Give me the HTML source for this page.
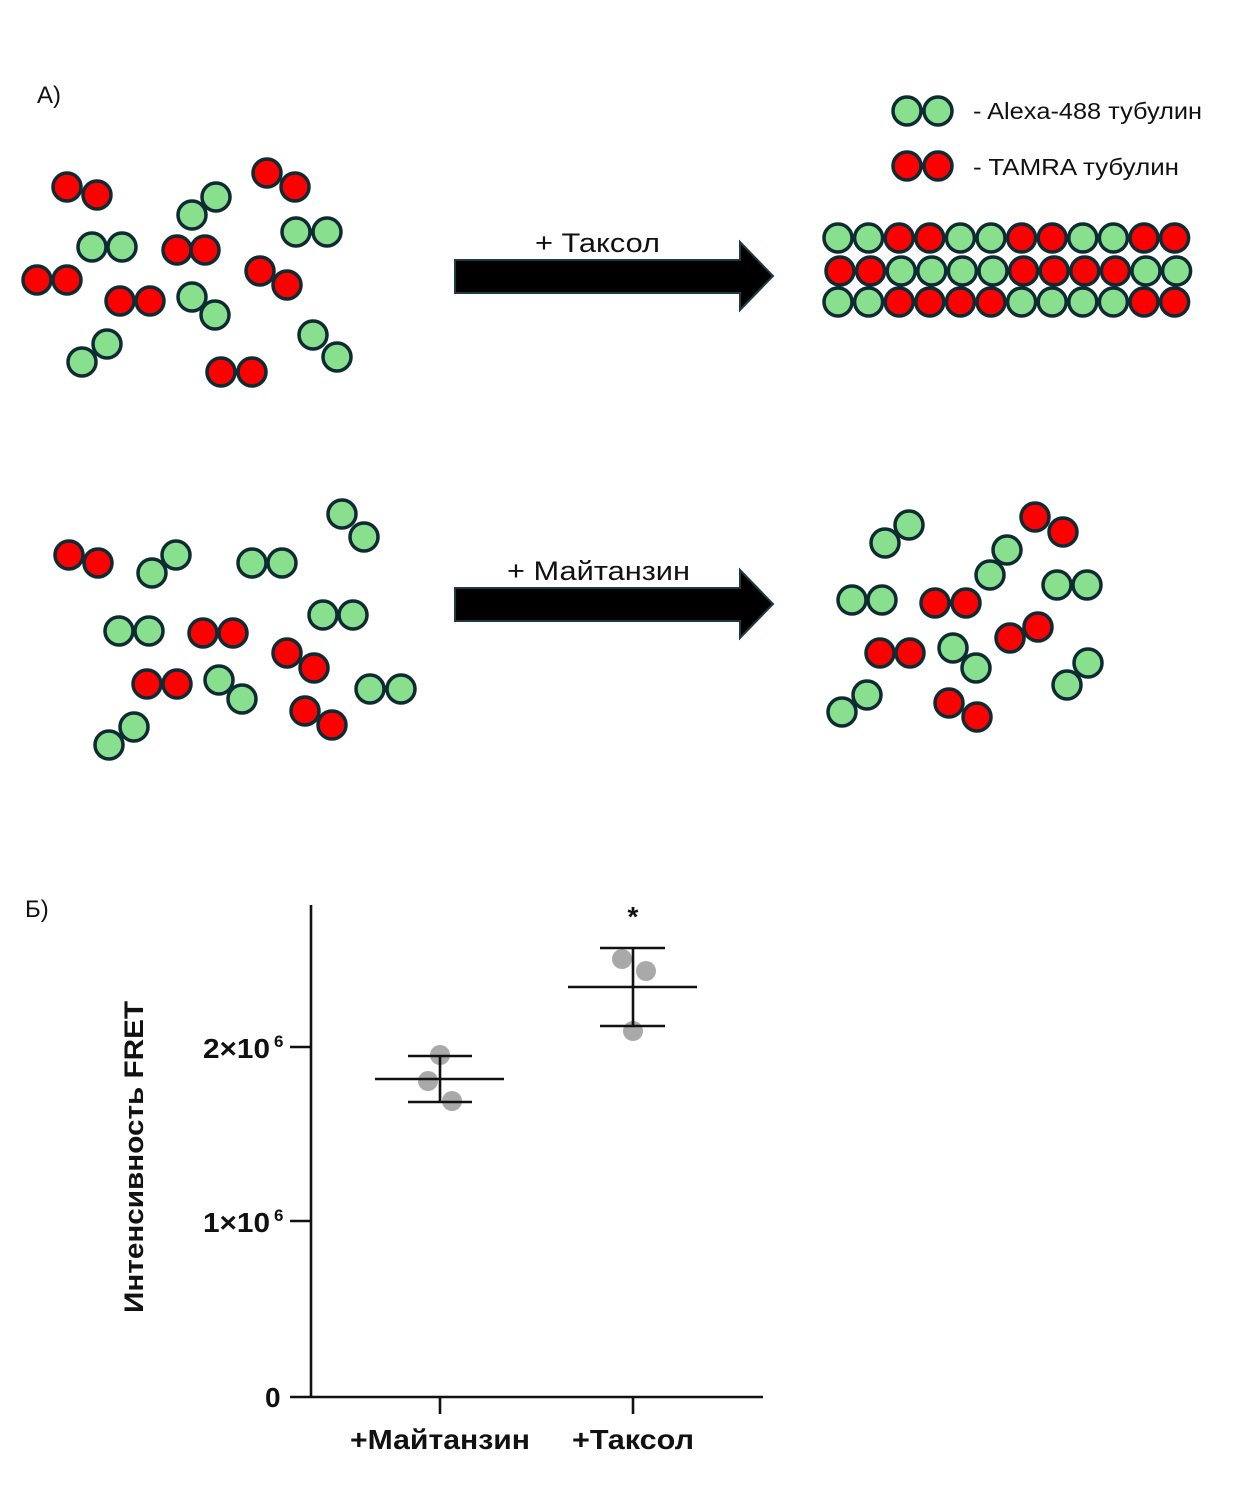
<!DOCTYPE html>
<html><head><meta charset="utf-8"><style>html,body{margin:0;padding:0;background:#fff}svg{display:block}</style></head>
<body>
<svg width="1233" height="1500" viewBox="0 0 1233 1500" xmlns="http://www.w3.org/2000/svg">
<defs>
<style>
.g{fill:#88df8e;stroke:#0e2a33;stroke-width:3.5}
.r{fill:#ff0000;stroke:#0e2a33;stroke-width:3.5}
.t{font-family:"Liberation Sans",sans-serif;fill:#111}
.b{font-family:"Liberation Sans",sans-serif;font-weight:bold;fill:#111}
.p{fill:#a9a9a9}
.l{stroke:#111;stroke-width:2.6;fill:none}
</style>
</defs>
<rect width="1233" height="1500" fill="#fff"/>

<text class="t" x="37" y="103" font-size="24">А)</text>
<text class="t" x="25" y="917" font-size="24">Б)</text>

<!-- Legend -->
<circle class="g" cx="907" cy="111" r="14"/><circle class="g" cx="938" cy="111" r="14"/>
<circle class="r" cx="907" cy="166" r="14"/><circle class="r" cx="938" cy="166" r="14"/>
<text class="t" x="973" y="119" font-size="23" textLength="229" lengthAdjust="spacingAndGlyphs">- Alexa-488 тубулин</text>
<text class="t" x="973" y="175" font-size="23" textLength="206" lengthAdjust="spacingAndGlyphs">- TAMRA тубулин</text>

<!-- Top-left dimers -->
<circle class="r" cx="67" cy="187" r="14"/><circle class="r" cx="97" cy="195" r="14"/>
<circle class="r" cx="267" cy="173" r="14"/><circle class="r" cx="295" cy="187" r="14"/>
<circle class="g" cx="192" cy="215" r="14"/><circle class="g" cx="216" cy="197" r="14"/>
<circle class="g" cx="92" cy="247" r="14"/><circle class="g" cx="122" cy="247" r="14"/>
<circle class="r" cx="177" cy="250" r="14"/><circle class="r" cx="205" cy="250" r="14"/>
<circle class="g" cx="296" cy="232" r="14"/><circle class="g" cx="327" cy="232" r="14"/>
<circle class="r" cx="37" cy="280" r="14"/><circle class="r" cx="67" cy="280" r="14"/>
<circle class="r" cx="260" cy="271" r="14"/><circle class="r" cx="287" cy="285" r="14"/>
<circle class="r" cx="120" cy="301" r="14"/><circle class="r" cx="150" cy="301" r="14"/>
<circle class="g" cx="192" cy="297" r="14"/><circle class="g" cx="215" cy="315" r="14"/>
<circle class="g" cx="107" cy="344" r="14"/><circle class="g" cx="82" cy="362" r="14"/>
<circle class="r" cx="221" cy="372" r="14"/><circle class="r" cx="252" cy="372" r="14"/>
<circle class="g" cx="313" cy="335" r="14"/><circle class="g" cx="337" cy="357" r="14"/>

<!-- Arrow 1 -->
<path d="M455,260 L740,260 L740,242 L773,276 L740,310 L740,293 L455,293 Z" fill="#000" stroke="#1d3b45" stroke-width="2"/>
<text class="t" x="535" y="252" font-size="27" textLength="125" lengthAdjust="spacingAndGlyphs">+ Таксол</text>

<!-- Microtubule -->
<g>
<circle class="g" cx="838" cy="238" r="14"/><circle class="g" cx="868.6" cy="238" r="14"/><circle class="r" cx="899.2" cy="238" r="14"/><circle class="r" cx="929.8" cy="238" r="14"/><circle class="g" cx="960.4" cy="238" r="14"/><circle class="g" cx="991" cy="238" r="14"/><circle class="r" cx="1021.6" cy="238" r="14"/><circle class="r" cx="1052.2" cy="238" r="14"/><circle class="g" cx="1082.8" cy="238" r="14"/><circle class="g" cx="1113.4" cy="238" r="14"/><circle class="r" cx="1144" cy="238" r="14"/><circle class="r" cx="1174.6" cy="238" r="14"/>
<circle class="r" cx="840" cy="271" r="14"/><circle class="r" cx="870.6" cy="271" r="14"/><circle class="g" cx="901.2" cy="271" r="14"/><circle class="g" cx="931.8" cy="271" r="14"/><circle class="g" cx="962.4" cy="271" r="14"/><circle class="g" cx="993" cy="271" r="14"/><circle class="r" cx="1023.6" cy="271" r="14"/><circle class="r" cx="1054.2" cy="271" r="14"/><circle class="r" cx="1084.8" cy="271" r="14"/><circle class="r" cx="1115.4" cy="271" r="14"/><circle class="g" cx="1146" cy="271" r="14"/><circle class="g" cx="1176.6" cy="271" r="14"/>
<circle class="g" cx="838" cy="302" r="14"/><circle class="g" cx="868.6" cy="302" r="14"/><circle class="r" cx="899.2" cy="302" r="14"/><circle class="r" cx="929.8" cy="302" r="14"/><circle class="r" cx="960.4" cy="302" r="14"/><circle class="r" cx="991" cy="302" r="14"/><circle class="g" cx="1021.6" cy="302" r="14"/><circle class="g" cx="1052.2" cy="302" r="14"/><circle class="g" cx="1082.8" cy="302" r="14"/><circle class="g" cx="1113.4" cy="302" r="14"/><circle class="r" cx="1144" cy="302" r="14"/><circle class="r" cx="1174.6" cy="302" r="14"/>
</g>

<!-- Bottom-left dimers -->
<circle class="r" cx="69" cy="555" r="14"/><circle class="r" cx="98" cy="563" r="14"/>
<circle class="g" cx="176" cy="555" r="14"/><circle class="g" cx="152" cy="573" r="14"/>
<circle class="g" cx="252" cy="563" r="14"/><circle class="g" cx="282" cy="563" r="14"/>
<circle class="g" cx="342" cy="514" r="14"/><circle class="g" cx="364" cy="537" r="14"/>
<circle class="g" cx="119" cy="631" r="14"/><circle class="g" cx="149" cy="631" r="14"/>
<circle class="r" cx="203" cy="633" r="14"/><circle class="r" cx="233" cy="633" r="14"/>
<circle class="g" cx="323" cy="615" r="14"/><circle class="g" cx="353" cy="615" r="14"/>
<circle class="r" cx="287" cy="653" r="14"/><circle class="r" cx="314" cy="668" r="14"/>
<circle class="r" cx="147" cy="684" r="14"/><circle class="r" cx="177" cy="684" r="14"/>
<circle class="g" cx="219" cy="680" r="14"/><circle class="g" cx="242" cy="699" r="14"/>
<circle class="g" cx="370" cy="689" r="14"/><circle class="g" cx="401" cy="689" r="14"/>
<circle class="r" cx="305" cy="711" r="14"/><circle class="r" cx="332" cy="725" r="14"/>
<circle class="g" cx="134" cy="727" r="14"/><circle class="g" cx="109" cy="745" r="14"/>

<!-- Arrow 2 -->
<path d="M455,588 L740,588 L740,570 L773,604 L740,638 L740,621 L455,621 Z" fill="#000" stroke="#1d3b45" stroke-width="2"/>
<text class="t" x="507" y="580" font-size="27" textLength="183" lengthAdjust="spacingAndGlyphs">+ Майтанзин</text>

<!-- Bottom-right dimers -->
<circle class="g" cx="909" cy="525" r="14"/><circle class="g" cx="885" cy="543" r="14"/>
<circle class="r" cx="1035" cy="517" r="14"/><circle class="r" cx="1063" cy="532" r="14"/>
<circle class="g" cx="1007" cy="550" r="14"/><circle class="g" cx="990" cy="575" r="14"/>
<circle class="g" cx="852" cy="600" r="14"/><circle class="g" cx="882" cy="600" r="14"/>
<circle class="r" cx="935" cy="603" r="14"/><circle class="r" cx="966" cy="603" r="14"/>
<circle class="g" cx="1057" cy="585" r="14"/><circle class="g" cx="1087" cy="585" r="14"/>
<circle class="r" cx="1038" cy="627" r="14"/><circle class="r" cx="1010" cy="638" r="14"/>
<circle class="r" cx="880" cy="653" r="14"/><circle class="r" cx="910" cy="653" r="14"/>
<circle class="g" cx="953" cy="648" r="14"/><circle class="g" cx="976" cy="668" r="14"/>
<circle class="g" cx="1088" cy="663" r="14"/><circle class="g" cx="1067" cy="685" r="14"/>
<circle class="g" cx="867" cy="695" r="14"/><circle class="g" cx="842" cy="712" r="14"/>
<circle class="r" cx="949" cy="703" r="14"/><circle class="r" cx="977" cy="717" r="14"/>

<!-- Chart -->
<line class="l" x1="311" y1="905" x2="311" y2="1398"/>
<line class="l" x1="290" y1="1397" x2="763" y2="1397"/>
<line class="l" x1="290" y1="1047" x2="311" y2="1047"/>
<line class="l" x1="290" y1="1221" x2="311" y2="1221"/>
<line class="l" x1="440" y1="1397" x2="440" y2="1414"/>
<line class="l" x1="633" y1="1397" x2="633" y2="1414"/>

<text class="b" x="203" y="1058" font-size="28" textLength="67" lengthAdjust="spacingAndGlyphs">2×10</text>
<text class="b" x="274" y="1047" font-size="17">6</text>
<text class="b" x="203" y="1232" font-size="28" textLength="67" lengthAdjust="spacingAndGlyphs">1×10</text>
<text class="b" x="274" y="1221" font-size="17">6</text>
<text class="b" x="265" y="1407" font-size="28">0</text>

<g transform="translate(143,1157) rotate(-90)">
<text class="b" x="0" y="0" font-size="27" text-anchor="middle" textLength="312" lengthAdjust="spacingAndGlyphs">Интенсивность FRET</text>
</g>

<text class="b" x="350" y="1449" font-size="28" textLength="180" lengthAdjust="spacingAndGlyphs">+Майтанзин</text>
<text class="b" x="572" y="1449" font-size="28" textLength="122" lengthAdjust="spacingAndGlyphs">+Таксол</text>

<!-- Group 1 -->
<circle class="p" cx="440" cy="1055" r="10"/>
<circle class="p" cx="428" cy="1081" r="10"/>
<circle class="p" cx="452" cy="1101" r="10"/>
<line class="l" x1="375" y1="1079" x2="504" y2="1079"/>
<line class="l" x1="408" y1="1056" x2="472" y2="1056"/>
<line class="l" x1="408" y1="1102" x2="472" y2="1102"/>
<line class="l" x1="440" y1="1056" x2="440" y2="1102"/>

<!-- Group 2 -->
<circle class="p" cx="622" cy="959" r="10"/>
<circle class="p" cx="646" cy="971" r="10"/>
<circle class="p" cx="633" cy="1031" r="10"/>
<line class="l" x1="568" y1="987" x2="697" y2="987"/>
<line class="l" x1="600" y1="948" x2="665" y2="948"/>
<line class="l" x1="600" y1="1026" x2="665" y2="1026"/>
<line class="l" x1="633" y1="948" x2="633" y2="1026"/>
<text class="b" x="633" y="926" font-size="28" text-anchor="middle">*</text>
</svg>
</body></html>
